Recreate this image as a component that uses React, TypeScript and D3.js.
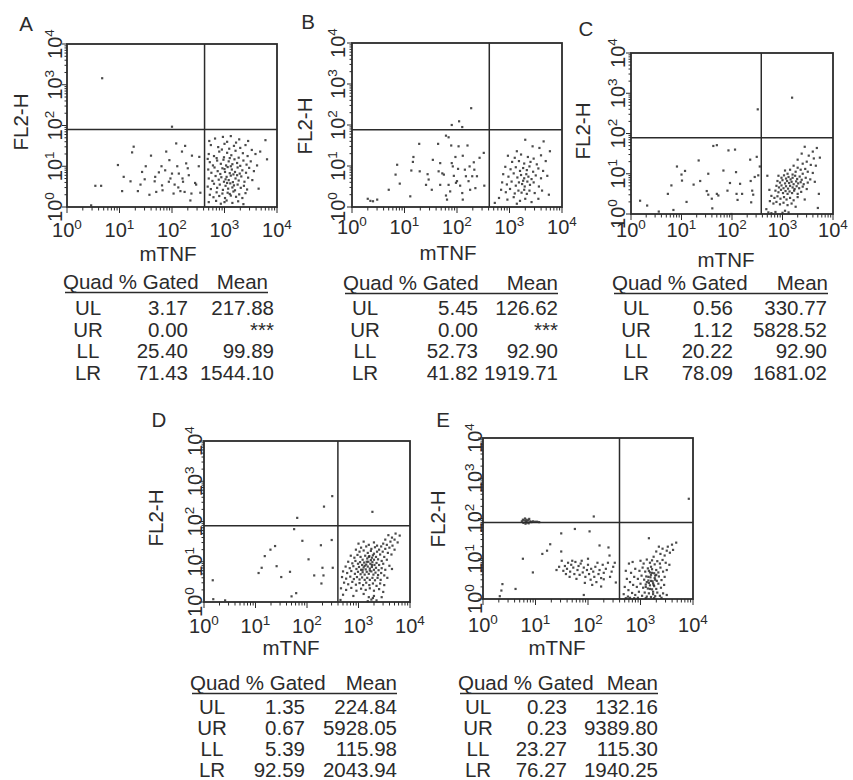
import * as d3 from "d3";

const FONT = "'Liberation Sans', Arial, Helvetica, sans-serif";
const INK = "#2b2b2b";

const quads = ["UL", "UR", "LL", "LR"];
const decades = [0, 1, 2, 3, 4];

// quadrant statistics per panel (null = ***)
const gatedA = [3.17, 0.0, 25.4, 71.43];
const meanA = [217.88, null, 99.89, 1544.1];
const gatedB = [5.45, 0.0, 52.73, 41.82];
const meanB = [126.62, null, 92.9, 1919.71];
const gatedC = [0.56, 1.12, 20.22, 78.09];
const meanC = [330.77, 5828.52, 92.9, 1681.02];
const gatedD = [1.35, 0.67, 5.39, 92.59];
const meanD = [224.84, 5928.05, 115.98, 2043.94];
const gatedE = [0.23, 0.23, 23.27, 76.27];
const meanE = [132.16, 9389.8, 115.3, 1940.25];

// quadrant gates [mTNF, FL2-H]
const gateA = [417, 80];
const gateB = [412, 77];
const gateC = [380, 78];
const gateD = [398, 78];
const gateE = [398, 79];

// events as [log10 mTNF, log10 FL2-H]
const eventsA = [
  [0.67, 3.16], [2.0, 1.97],
  [0.54, 0.52], [0.65, 0.52], [0.46, 0.04],
  [0.97, 1.03], [1.08, 0.74], [1.05, 0.39], [1.27, 1.48], [1.24, 1.34], [1.21, 0.63], [1.35, 0.39],
  [1.43, 0.86], [1.5, 1.0], [1.48, 0.68], [1.6, 1.26], [1.57, 0.3], [1.68, 0.74], [1.67, 0.63],
  [1.7, 0.37], [1.8, 1.0], [1.81, 0.53], [1.82, 0.41], [1.89, 1.36], [1.87, 0.9], [1.94, 0.62],
  [1.97, 0.7], [2.0, 0.82], [2.03, 0.33], [2.05, 0.55], [2.08, 1.56], [2.1, 1.0], [2.13, 0.82],
  [2.16, 0.39], [2.19, 1.36], [2.2, 0.7], [2.21, 0.62], [2.24, 0.37], [2.25, 1.5], [2.27, 1.07],
  [2.32, 0.78], [2.35, 0.16], [2.38, 1.26], [2.37, 0.33], [2.44, 0.59], [2.46, 0.55], [2.51, 1.0],
  [2.52, 1.23], [2.54, 0.35], [1.75, 0.85], [1.95, 1.15], [2.3, 0.95], [1.4, 0.55], [2.12, 0.48],
  [2.82, 1.68], [2.97, 1.72], [3.12, 1.74], [3.28, 1.66], [3.45, 1.62], [3.78, 1.64], [2.71, 1.62], [3.05, 1.6],
  [2.74, 1.52], [2.88, 1.47], [3.0, 1.55], [3.09, 1.43], [3.18, 1.5], [3.3, 1.45], [3.4, 1.52], [3.52, 1.4],
  [2.95, 1.41], [3.22, 1.58],
  [2.7, 1.3], [2.8, 1.25], [2.9, 1.36], [2.99, 1.22], [3.05, 1.33], [3.13, 1.27], [3.21, 1.38], [3.27, 1.21],
  [3.35, 1.32], [3.44, 1.25], [3.59, 1.3], [3.68, 1.36], [3.81, 1.17], [2.85, 1.2], [3.1, 1.2],
  [2.72, 1.1], [2.78, 1.02], [2.86, 1.14], [2.93, 1.06], [2.98, 1.16], [3.03, 1.02], [3.08, 1.12], [3.15, 1.05],
  [3.19, 1.17], [3.24, 1.08], [3.3, 1.01], [3.36, 1.14], [3.42, 1.04], [3.5, 1.12], [3.62, 1.02], [2.68, 1.18], [3.12, 1.0],
  [2.69, 0.92], [2.75, 0.84], [2.81, 0.97], [2.87, 0.88], [2.92, 0.81], [2.96, 0.95], [3.01, 0.86], [3.06, 0.98],
  [3.1, 0.83], [3.14, 0.92], [3.2, 0.86], [3.25, 0.97], [3.29, 0.82], [3.34, 0.9], [3.41, 0.84], [3.47, 0.96],
  [3.56, 0.88], [3.0, 0.93], [3.17, 0.8],
  [2.7, 0.7], [2.77, 0.64], [2.83, 0.76], [2.89, 0.67], [2.94, 0.73], [2.99, 0.62], [3.04, 0.74], [3.08, 0.66],
  [3.12, 0.77], [3.16, 0.61], [3.21, 0.7], [3.27, 0.65], [3.32, 0.75], [3.38, 0.62], [3.45, 0.72], [3.53, 0.66],
  [3.02, 0.68], [3.24, 0.78],
  [2.68, 0.5], [2.74, 0.44], [2.8, 0.57], [2.86, 0.47], [2.91, 0.55], [2.97, 0.42], [3.02, 0.52], [3.07, 0.45],
  [3.11, 0.58], [3.15, 0.48], [3.2, 0.41], [3.25, 0.55], [3.31, 0.47], [3.37, 0.52], [3.43, 0.43], [3.65, 0.45],
  [3.05, 0.59], [3.18, 0.53],
  [2.72, 0.3], [2.79, 0.24], [2.85, 0.36], [2.9, 0.27], [2.96, 0.33], [3.01, 0.22], [3.06, 0.35], [3.12, 0.28],
  [3.17, 0.38], [3.22, 0.25], [3.28, 0.31], [3.34, 0.22], [3.4, 0.34], [3.1, 0.32],
  [2.7, 0.12], [2.84, 0.15], [2.93, 0.08], [3.04, 0.16], [3.15, 0.1], [3.26, 0.14], [3.36, 0.07], [3.0, 0.12],
];

const eventsB = [
  [2.27, 2.41], [1.9, 2.0], [2.04, 2.09], [2.1, 1.95],
  [0.3, 0.2], [0.35, 0.15], [0.4, 0.14], [0.48, 0.18], [0.7, 0.42], [0.83, 0.79], [0.86, 1.03], [0.91, 0.57],
  [1.11, 0.26], [1.13, 0.89], [1.16, 1.1], [1.17, 1.22], [1.28, 1.54], [1.29, 0.87], [1.41, 0.54], [1.46, 0.67],
  [1.52, 0.42], [1.54, 1.15], [1.64, 1.54], [1.65, 0.87], [1.68, 1.07], [1.68, 0.54], [1.75, 0.79], [1.79, 1.74],
  [1.84, 1.7], [1.79, 0.28], [1.81, 0.18], [1.87, 0.38], [1.89, 1.5], [1.9, 1.07], [1.92, 0.99], [1.94, 0.76],
  [1.97, 1.22], [1.98, 0.59], [2.0, 0.63], [2.02, 0.93], [2.03, 1.48], [2.06, 0.52], [2.1, 0.34], [2.11, 1.25],
  [2.11, 0.18], [2.15, 0.91], [2.17, 0.75], [2.2, 1.5], [2.22, 0.63], [2.24, 0.99], [2.25, 0.42], [2.29, 0.75],
  [2.32, 1.09], [2.33, 0.91], [2.35, 0.46], [2.38, 0.75], [2.43, 1.2], [2.51, 1.32], [2.52, 0.52], [1.84, 0.54],
  [1.72, 0.82], [1.44, 0.8],
  [3.3, 1.64], [3.44, 1.48], [3.65, 1.6], [3.14, 1.36], [3.57, 1.44], [3.77, 1.36],
  [2.97, 1.25], [3.1, 1.2], [3.22, 1.28], [3.35, 1.22], [3.46, 1.18], [3.6, 1.26], [3.05, 1.1], [3.18, 1.12],
  [3.28, 1.06], [3.4, 1.1], [3.52, 1.04], [3.69, 1.12],
  [2.92, 0.98], [3.02, 0.92], [3.12, 0.97], [3.2, 0.88], [3.26, 0.95], [3.33, 0.9], [3.38, 0.99], [3.45, 0.86],
  [3.55, 0.94], [3.64, 0.88],
  [2.88, 0.8], [2.98, 0.74], [3.08, 0.82], [3.15, 0.72], [3.22, 0.78], [3.28, 0.7], [3.32, 0.8], [3.36, 0.74],
  [3.42, 0.68], [3.5, 0.77], [3.6, 0.7], [3.72, 0.76],
  [2.86, 0.6], [2.95, 0.55], [3.04, 0.62], [3.12, 0.52], [3.18, 0.6], [3.24, 0.56], [3.29, 0.5], [3.34, 0.62],
  [3.39, 0.54], [3.46, 0.6], [3.56, 0.5], [3.26, 0.64],
  [2.84, 0.42], [2.93, 0.36], [3.01, 0.44], [3.1, 0.33], [3.17, 0.4], [3.23, 0.35], [3.28, 0.42], [3.33, 0.32],
  [3.38, 0.4], [3.48, 0.34], [3.62, 0.4], [3.75, 0.3],
  [2.8, 0.22], [2.96, 0.18], [3.08, 0.24], [3.2, 0.15], [3.3, 0.2], [3.42, 0.12], [3.55, 0.2], [2.72, 0.1], [3.14, 0.08],
];

const eventsC = [
  [2.51, 2.6], [3.19, 2.89],
  [0.18, 0.33], [0.32, 0.21], [0.55, 0.06], [0.84, 0.1], [0.73, 0.5], [0.8, 0.71], [0.91, 1.18], [1.0, 0.98],
  [1.01, 0.83], [1.07, 1.07], [1.1, 0.3], [1.24, 0.73], [1.34, 1.33], [1.37, 0.82], [1.5, 0.57], [1.53, 1.0],
  [1.53, 0.48], [1.6, 0.38], [1.61, 0.14], [1.63, 1.69], [1.7, 1.71], [1.7, 0.5], [1.73, 0.46], [1.83, 1.08],
  [1.93, 1.58], [1.91, 0.58], [1.96, 0.77], [1.99, 0.0], [2.06, 1.6], [2.08, 1.04], [2.09, 0.5], [2.11, 0.35],
  [2.16, 0.75], [2.2, 0.5], [2.36, 1.35], [2.37, 0.82], [2.4, 0.58], [2.42, 0.48], [2.45, 0.92], [2.49, 1.42],
  [2.52, 0.96], [2.55, 1.18], [2.38, 0.29],
  [3.44, 1.67], [3.6, 1.55], [3.68, 1.64], [3.52, 1.45], [3.62, 1.38], [3.38, 1.5], [3.74, 1.4], [3.48, 1.3],
  [3.56, 1.22], [3.3, 1.35], [3.4, 1.25], [3.66, 1.2],
  [3.22, 1.2], [3.3, 1.15], [3.36, 1.1], [3.45, 1.12], [3.15, 1.1], [3.26, 1.05], [3.5, 1.05], [3.6, 1.02],
  [3.05, 1.08], [3.4, 1.0], [3.1, 1.0], [3.2, 0.98],
  [2.92, 0.95], [2.98, 0.9], [3.03, 0.96], [3.07, 0.88], [3.12, 0.92], [3.16, 0.86], [3.2, 0.9], [3.25, 0.95],
  [3.29, 0.87], [3.34, 0.93], [3.38, 0.85], [3.46, 0.9], [3.55, 0.86],
  [2.9, 0.82], [2.95, 0.78], [3.0, 0.84], [3.05, 0.76], [3.09, 0.82], [3.13, 0.77], [3.18, 0.8], [3.22, 0.74],
  [3.27, 0.81], [3.31, 0.76], [3.36, 0.79], [3.42, 0.74], [3.5, 0.78], [3.64, 0.8],
  [2.88, 0.7], [2.93, 0.66], [2.98, 0.71], [3.02, 0.64], [3.07, 0.69], [3.11, 0.63], [3.15, 0.7], [3.2, 0.66],
  [3.24, 0.62], [3.28, 0.69], [3.33, 0.64], [3.4, 0.68], [3.48, 0.62],
  [2.86, 0.58], [2.92, 0.54], [2.97, 0.6], [3.01, 0.52], [3.06, 0.57], [3.1, 0.5], [3.14, 0.56], [3.19, 0.52],
  [3.23, 0.58], [3.3, 0.5], [3.37, 0.55], [3.72, 0.5],
  [2.78, 0.45], [2.84, 0.4], [2.9, 0.44], [2.96, 0.38], [3.03, 0.42], [3.08, 0.36], [3.15, 0.4], [3.22, 0.34],
  [3.3, 0.42], [3.44, 0.36],
  [2.75, 0.32], [2.82, 0.26], [2.88, 0.3], [2.95, 0.24], [3.02, 0.28], [3.1, 0.22], [3.18, 0.26], [3.26, 0.18], [3.7, 0.15],
  [2.72, 0.04], [2.78, 0.02], [2.86, 0.05], [3.0, 0.03], [3.05, 0.08], [3.12, 0.04], [2.68, 0.12], [2.7, 0.95], [2.74, 0.6],
];

const eventsD = [
  [2.49, 2.63], [2.33, 2.37], [1.81, 2.09], [3.27, 2.24],
  [0.17, 0.54], [0.18, 0.07], [0.41, 0.04], [1.06, 0.72], [1.12, 0.85], [1.18, 1.14], [1.29, 1.3], [1.38, 1.39],
  [1.41, 0.89], [1.5, 0.62], [1.67, 0.75], [1.7, 0.14], [1.79, 0.22], [1.91, 1.52], [2.03, 1.06], [2.14, 0.66],
  [2.27, 1.41], [2.28, 0.46], [2.32, 0.66], [2.3, 0.85], [2.48, 1.54], [2.5, 0.85], [1.75, 1.81],
  [3.72, 1.7], [3.8, 1.65], [3.65, 1.6], [3.58, 1.66], [3.7, 1.55], [3.62, 1.5], [3.52, 1.55], [3.76, 1.48],
  [3.55, 1.42], [3.66, 1.4], [3.48, 1.45], [3.6, 1.35], [3.44, 1.38], [3.52, 1.32], [3.7, 1.3], [3.4, 1.3],
  [3.47, 1.25], [3.57, 1.22], [3.64, 1.18],
  [3.0, 1.45], [3.1, 1.5], [3.2, 1.42], [3.3, 1.48], [3.36, 1.4], [3.05, 1.35], [3.15, 1.38], [3.25, 1.32],
  [3.32, 1.36], [2.95, 1.3], [3.02, 1.25], [3.1, 1.28], [3.18, 1.22], [3.24, 1.27], [3.3, 1.2], [3.36, 1.25],
  [3.42, 1.18], [3.5, 1.12],
  [2.85, 1.15], [2.92, 1.1], [2.98, 1.17], [3.04, 1.12], [3.08, 1.05], [3.13, 1.15], [3.17, 1.08], [3.21, 1.14],
  [3.26, 1.1], [3.3, 1.05], [3.34, 1.12], [3.38, 1.06], [3.45, 1.02], [3.55, 1.05],
  [2.8, 1.0], [2.88, 0.96], [2.94, 1.02], [2.99, 0.95], [3.03, 0.99], [3.07, 0.92], [3.11, 0.98], [3.15, 0.93],
  [3.19, 1.0], [3.23, 0.95], [3.27, 0.99], [3.31, 0.92], [3.35, 0.97], [3.4, 0.92], [3.48, 0.95], [3.6, 0.9],
  [2.75, 0.88], [2.83, 0.84], [2.9, 0.89], [2.96, 0.82], [3.01, 0.87], [3.05, 0.8], [3.1, 0.86], [3.14, 0.81],
  [3.18, 0.88], [3.22, 0.83], [3.26, 0.87], [3.3, 0.8], [3.34, 0.85], [3.39, 0.79], [3.45, 0.84], [3.52, 0.8], [3.65, 0.82],
  [2.7, 0.76], [2.78, 0.72], [2.86, 0.77], [2.93, 0.7], [2.99, 0.75], [3.04, 0.69], [3.08, 0.74], [3.12, 0.68],
  [3.16, 0.75], [3.2, 0.7], [3.25, 0.76], [3.29, 0.68], [3.33, 0.73], [3.38, 0.67], [3.44, 0.72], [3.5, 0.66],
  [2.68, 0.62], [2.76, 0.58], [2.84, 0.63], [2.91, 0.57], [2.97, 0.62], [3.02, 0.56], [3.07, 0.61], [3.12, 0.55],
  [3.17, 0.6], [3.22, 0.55], [3.27, 0.6], [3.32, 0.54], [3.37, 0.6], [3.43, 0.55], [3.56, 0.6],
  [2.72, 0.48], [2.8, 0.44], [2.88, 0.5], [2.95, 0.43], [3.02, 0.47], [3.09, 0.42], [3.15, 0.48], [3.21, 0.42],
  [3.28, 0.46], [3.35, 0.4], [3.42, 0.46], [3.5, 0.42],
  [2.66, 0.34], [2.76, 0.3], [2.86, 0.35], [2.96, 0.28], [3.05, 0.33], [3.14, 0.3], [3.22, 0.34], [3.3, 0.28],
  [3.4, 0.32], [3.48, 0.25],
  [2.7, 0.18], [2.9, 0.15], [3.1, 0.2], [3.2, 0.12], [3.25, 0.06], [3.3, 0.15], [3.35, 0.04], [3.28, 0.1],
  [3.18, 0.02], [2.65, 0.05], [3.45, 0.12],
  [3.2, 1.12], [3.24, 1.04], [3.28, 1.16], [3.16, 1.0], [3.12, 0.9], [3.26, 0.92], [3.22, 0.78], [3.08, 0.8],
];

const eventsE = [
  [0.74, 1.93], [0.76, 1.97], [0.77, 1.89], [0.79, 1.95], [0.8, 2.0], [0.81, 1.87], [0.82, 1.93], [0.83, 1.97],
  [0.84, 1.9], [0.86, 1.95], [0.87, 1.88], [0.88, 1.99], [0.9, 1.93], [0.92, 1.91], [0.95, 1.93], [0.99, 1.92],
  [1.03, 1.92], [1.07, 1.91],
  [2.11, 2.05], [3.92, 2.49],
  [0.32, 0.07], [0.35, 0.21], [0.37, 0.37], [0.62, 0.25], [0.76, 1.0], [0.95, 0.66], [1.13, 1.12], [1.22, 1.2],
  [1.28, 1.36], [1.49, 1.63], [1.49, 1.18], [1.4, 0.72], [1.75, 1.74], [1.92, 0.1], [2.03, 1.68], [2.22, 1.33],
  [2.39, 1.28], [2.41, 1.08], [2.51, 0.9], [2.53, 0.41], [2.25, 0.31], [2.3, 0.49],
  [1.5, 0.95], [1.56, 0.82], [1.6, 0.75], [1.62, 0.9], [1.66, 0.68], [1.68, 0.85], [1.72, 0.78], [1.74, 0.62],
  [1.76, 0.92], [1.8, 0.72], [1.82, 0.82], [1.84, 0.6], [1.86, 0.88], [1.9, 0.66], [1.92, 0.78], [1.95, 0.55],
  [1.98, 0.72], [2.0, 0.85], [2.02, 0.62], [2.05, 0.48], [2.06, 0.75], [2.1, 0.68], [2.12, 0.55], [2.14, 0.8],
  [2.16, 0.42], [2.2, 0.62], [2.22, 0.72], [2.25, 0.52], [2.28, 0.85], [2.3, 0.65], [2.34, 0.75], [2.38, 0.9],
  [2.42, 0.55], [2.45, 0.68], [2.48, 0.8], [1.65, 0.55], [1.7, 0.95], [1.78, 0.5], [1.88, 0.95], [1.94, 0.4],
  [2.08, 0.35], [2.18, 0.9], [1.58, 0.62], [1.53, 0.7], [2.0, 1.0], [1.45, 0.8],
  [3.16, 1.51], [3.6, 1.35], [3.68, 1.4], [3.52, 1.3], [3.5, 1.2], [3.42, 1.25], [3.56, 1.15], [3.38, 1.12],
  [3.3, 1.18], [3.46, 1.08], [3.25, 1.05], [3.62, 1.22], [3.35, 1.3],
  [3.0, 0.95], [3.06, 0.88], [3.12, 0.98], [3.18, 0.9], [3.22, 0.96], [3.27, 0.86], [3.32, 0.94], [3.37, 0.88],
  [3.42, 0.97], [3.48, 0.9], [3.55, 0.85], [2.85, 0.92], [2.78, 0.88],
  [2.9, 0.75], [2.98, 0.7], [3.04, 0.78], [3.09, 0.68], [3.14, 0.76], [3.18, 0.66], [3.22, 0.74], [3.26, 0.64],
  [3.3, 0.72], [3.34, 0.66], [3.38, 0.78], [3.43, 0.68], [3.5, 0.72], [2.72, 0.7], [2.82, 0.65],
  [2.88, 0.55], [2.95, 0.5], [3.02, 0.58], [3.07, 0.48], [3.11, 0.56], [3.15, 0.46], [3.19, 0.54], [3.23, 0.44],
  [3.27, 0.52], [3.31, 0.45], [3.35, 0.56], [3.4, 0.47], [3.46, 0.55], [2.74, 0.5], [2.8, 0.42], [3.2, 0.6], [3.28, 0.58],
  [2.86, 0.35], [2.93, 0.3], [3.0, 0.38], [3.05, 0.28], [3.1, 0.36], [3.14, 0.26], [3.18, 0.34], [3.22, 0.24],
  [3.26, 0.32], [3.3, 0.25], [3.34, 0.38], [3.39, 0.28], [3.45, 0.35], [2.7, 0.3], [2.77, 0.22], [3.16, 0.4], [3.24, 0.39],
  [2.84, 0.15], [2.9, 0.1], [2.97, 0.18], [3.03, 0.08], [3.08, 0.16], [3.12, 0.06], [3.16, 0.14], [3.2, 0.05],
  [3.24, 0.12], [3.28, 0.07], [3.32, 0.16], [3.37, 0.08], [3.43, 0.14], [2.68, 0.12], [2.76, 0.06], [3.5, 0.1],
  [2.72, 0.02], [2.8, 0.03], [2.88, 0.02], [2.95, 0.03], [3.1, 0.02], [3.26, 0.02], [3.4, 0.03],
  [3.15, 0.55], [3.2, 0.45], [3.25, 0.35], [3.18, 0.25], [3.22, 0.65], [3.12, 0.42], [3.28, 0.48], [3.1, 0.3],
  [3.24, 0.18], [3.16, 0.7], [3.3, 0.6], [3.2, 0.8],
];

// page positions of each panel
const layout = [
  {
    letter: "A", box: [67, 44, 277, 207], letterAt: [26, 31], yTitleAt: [28, 122], xTitleAt: [168, 261],
    yGap: 5, xLabelY: 237, gate: gateA, events: eventsA, gated: gatedA, mean: meanA,
    table: { quadX: 63, labelX: 88, pctX: 188, meanX: 274, headMeanX: 268, headY: 289, rowY: 315, step: 21.7 },
  },
  {
    letter: "B", box: [352, 43, 562, 207], letterAt: [308, 29], yTitleAt: [312, 126], xTitleAt: [448, 260],
    yGap: 7, xLabelY: 234, gate: gateB, events: eventsB, gated: gatedB, mean: meanB,
    table: { quadX: 343, labelX: 365, pctX: 478, meanX: 558, headMeanX: 558, headY: 290, rowY: 315, step: 21.7 },
  },
  {
    letter: "C", box: [631, 53, 833, 214], letterAt: [586, 36], yTitleAt: [590, 131], xTitleAt: [726, 267],
    yGap: 6, xLabelY: 237, gate: gateC, events: eventsC, gated: gatedC, mean: meanC,
    table: { quadX: 612, labelX: 636, pctX: 733, meanX: 827, headMeanX: 828, headY: 290, rowY: 315, step: 21.7 },
  },
  {
    letter: "D", box: [204, 441, 410, 602], letterAt: [159, 427], yTitleAt: [163, 518], xTitleAt: [291, 655],
    yGap: 2, xLabelY: 633, gate: gateD, events: eventsD, gated: gatedD, mean: meanD,
    table: { quadX: 190, labelX: 212, pctX: 305, meanX: 397, headMeanX: 397, headY: 690, rowY: 713.5, step: 21.3 },
  },
  {
    letter: "E", box: [483, 438, 693, 599], letterAt: [443, 427], yTitleAt: [445, 519], xTitleAt: [557, 655],
    yGap: 1, xLabelY: 632, gate: gateE, events: eventsE, gated: gatedE, mean: meanE,
    table: { quadX: 458, labelX: 478, pctX: 567, meanX: 658, headMeanX: 658, headY: 690, rowY: 713.5, step: 21.3 },
  },
];

function isDecade(t: number) {
  const l = Math.log10(t);
  return Math.abs(l - Math.round(l)) < 1e-9;
}

function Panel({ p }: { p: (typeof layout)[number] }) {
  const [x0, y0, x1, y1] = p.box;
  const x = d3.scaleLog().domain([1, 1e4]).range([x0, x1]);
  const y = d3.scaleLog().domain([1, 1e4]).range([y1, y0]);
  const ticks = x.ticks();
  const t = p.table;

  return (
    <g>
      <text x={p.letterAt[0]} y={p.letterAt[1]} textAnchor="middle" fontSize={20.5}>
        {p.letter}
      </text>

      {/* events */}
      {p.events.map((d, i) => (
        <rect
          key={i}
          x={x(10 ** d[0]) - 1.1}
          y={y(10 ** d[1]) - 1.1}
          width={2.2}
          height={2.2}
          fill={INK}
          opacity={0.85}
        />
      ))}

      {/* quadrant gates */}
      <line x1={x(p.gate[0])} x2={x(p.gate[0])} y1={y0} y2={y1} stroke={INK} strokeWidth={1.5} />
      <line x1={x0} x2={x1} y1={y(p.gate[1])} y2={y(p.gate[1])} stroke={INK} strokeWidth={1.5} />

      {/* frame */}
      <rect x={x0} y={y0} width={x1 - x0} height={y1 - y0} fill="none" stroke={INK} strokeWidth={1.8} />

      {/* log ticks */}
      {ticks.map((v) => {
        const len = isDecade(v) ? 6 : 3.5;
        return (
          <g key={v}>
            <line x1={x(v)} x2={x(v)} y1={y1} y2={y1 + len} stroke={INK} strokeWidth={1} />
            <line x1={x0} x2={x0 - len + 1} y1={y(v)} y2={y(v)} stroke={INK} strokeWidth={1} />
          </g>
        );
      })}

      {decades.map((k) => (
        <text key={"x" + k} x={x(10 ** k)} y={p.xLabelY} textAnchor="middle" fontSize={20}>
          10<tspan fontSize={13.5} dy={-8.5}>{k}</tspan>
        </text>
      ))}
      {decades.map((k) => (
        <text
          key={"y" + k}
          transform={`translate(${x0 - p.yGap},${y(10 ** k)}) rotate(-90)`}
          textAnchor="middle"
          fontSize={20}
        >
          10<tspan fontSize={13.5} dy={-8.5}>{k}</tspan>
        </text>
      ))}

      <text x={p.xTitleAt[0]} y={p.xTitleAt[1]} textAnchor="middle" fontSize={20.5}>
        mTNF
      </text>
      <text
        transform={`translate(${p.yTitleAt[0]},${p.yTitleAt[1]}) rotate(-90)`}
        textAnchor="middle"
        fontSize={20.5}
      >
        FL2-H
      </text>

      {/* quadrant statistics */}
      <g fontSize={20.5}>
        <text x={t.quadX} y={t.headY}>Quad % Gated</text>
        <text x={t.headMeanX} y={t.headY} textAnchor="end">Mean</text>
        <line x1={t.quadX + 2} x2={t.headMeanX} y1={t.headY + 3.5} y2={t.headY + 3.5} stroke={INK} strokeWidth={1.3} />
        {quads.map((q, i) => {
          const ry = t.rowY + i * t.step;
          const m = p.mean[i];
          return (
            <g key={q}>
              <text x={t.labelX} y={ry} textAnchor="middle">{q}</text>
              <text x={t.pctX} y={ry} textAnchor="end">{p.gated[i].toFixed(2)}</text>
              <text x={t.meanX} y={ry} textAnchor="end">{m === null ? "***" : m.toFixed(2)}</text>
            </g>
          );
        })}
      </g>
    </g>
  );
}

export default function App() {
  return (
    <div style={{ position: "absolute", left: 0, top: 0 }}>
      <svg width={853} height={780} style={{ display: "block", background: "#fff" }} fontFamily={FONT} fill={INK}>
        {layout.map((p) => (
          <Panel key={p.letter} p={p} />
        ))}
      </svg>
    </div>
  );
}
